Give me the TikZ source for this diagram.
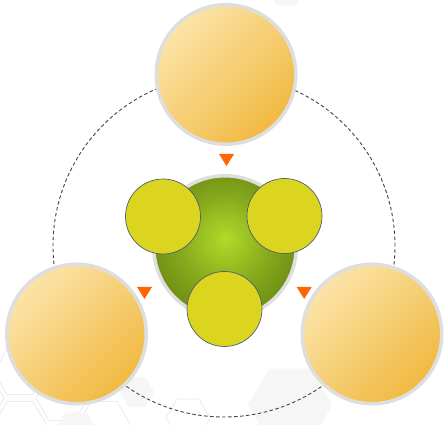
\documentclass[tikz,border=0pt]{standalone}
\usetikzlibrary{shapes.geometric}
\definecolor{ringgray}{HTML}{DEDEDE}
\definecolor{ylight}{HTML}{FBE4A8}
\definecolor{ydark}{HTML}{F1B941}
\definecolor{smallyel}{HTML}{DCD520}
\definecolor{smallbord}{HTML}{4F5E6E}
\definecolor{gcenter}{HTML}{B2DA2A}
\definecolor{gmid}{HTML}{85A91C}
\definecolor{gedge}{HTML}{5A760F}
\definecolor{triorange}{HTML}{FF6600}
\definecolor{dashgray}{HTML}{444444}
\definecolor{hexgray}{HTML}{EBEBEB}
\definecolor{hexfill}{HTML}{F6F6F6}
\pgfdeclareradialshading{greenball}{\pgfpoint{0bp}{3bp}}{color(0bp)=(gcenter); color(16bp)=(gmid); color(36bp)=(gedge); color(50bp)=(gedge)}
\tikzset{
  bigcirc/.style={circle, inner sep=0pt, minimum size=139.5pt, draw=ringgray, line width=3.5pt,
    top color=ylight, bottom color=ydark, shading angle=45},
  greencirc/.style={circle, inner sep=0pt, minimum size=142.5pt, draw=ringgray, line width=3.5pt,
    shading=greenball},
  smallcirc/.style={circle, inner sep=0pt, minimum size=75pt, draw=smallbord, line width=0.7pt, fill=smallyel},
  ringline/.style={draw=dashgray, line width=0.9pt, dash pattern=on 3.5pt off 2.5pt},
  tri/.style={fill=triorange},
  hexline/.style={draw=hexgray, line width=0.8pt},
  hexsolid/.style={fill=hexfill}
}
\begin{document}
\begin{tikzpicture}[x=1pt,y=-1pt]
\useasboundingbox (0,0) rectangle (448,425);
\fill[white] (0,0) rectangle (448,425);
% faint background hexagons
\foreach \cx/\cy/\r in {20/372/26, 62/398/26, -22/398/26, 20/424/26, 104/424/26, 188/418/22}{
  \draw[hexline] (\cx,\cy) +(0:\r) -- +(60:\r) -- +(120:\r) -- +(180:\r) -- +(240:\r) -- +(300:\r) -- cycle;
}
\foreach \cx/\cy/\r in {137/392/17, 290/405/42, 76/432/22, 286/-10/18}{
  \fill[hexsolid] (\cx,\cy) +(0:\r) -- +(60:\r) -- +(120:\r) -- +(180:\r) -- +(240:\r) -- +(300:\r) -- cycle;
}
% dashed ring
\coordinate (ringc) at (224,246);
\draw[ringline] (ringc) circle (171pt);
% outer circles
\node[bigcirc] (top) at (226,74.5) {};
\node[bigcirc] (left) at (76.5,334) {};
\node[bigcirc] (right) at (372,334) {};
% centre sphere
\node[greencirc] (centre) at (225,247) {};
\node[smallcirc] (sa) at (163,216.5) {};
\node[smallcirc] (sb) at (284.5,216) {};
\node[smallcirc] (sc) at (224.5,309) {};
% triangles
\fill[tri] (219,154) -- (234,154) -- (226.5,166) -- cycle;
\fill[tri] (137,287) -- (152,287) -- (144.5,299) -- cycle;
\fill[tri] (296.7,287) -- (311.7,287) -- (304.2,299) -- cycle;
\end{tikzpicture}
\end{document}
